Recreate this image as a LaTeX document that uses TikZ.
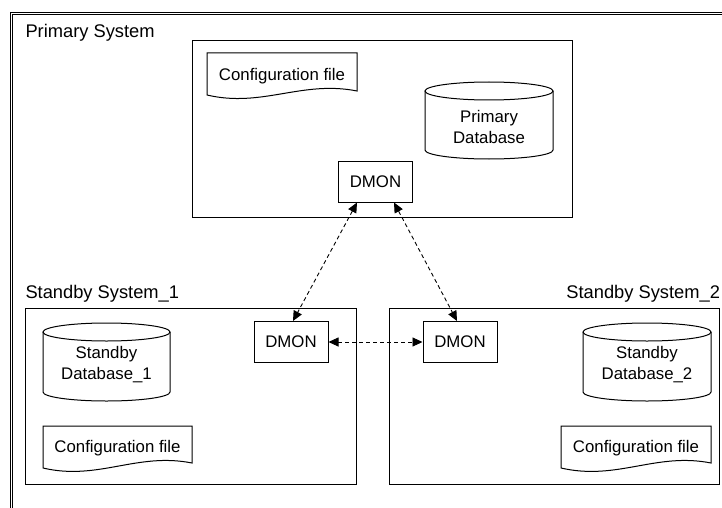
\documentclass[tikz,border=0pt]{standalone}
\usepackage{fontspec}
\setmainfont{Liberation Sans}
\usetikzlibrary{arrows.meta,calc}
\begin{document}
\begin{tikzpicture}[x=1pt,y=-1pt,line width=1pt,
  every node/.style={font=\fontsize{16.8}{21}\selectfont,inner sep=0pt,text=black},
  titletext/.style={font=\fontsize{18.3}{21}\selectfont},
  container/.style={draw,rectangle,minimum height=176pt},
  dmonbox/.style={draw,rectangle,minimum width=74pt,minimum height=41pt},
  link/.style={dash pattern=on 4pt off 3pt,line width=0.9pt,{Triangle[length=10pt,width=9pt]}-{Triangle[length=10pt,width=9pt]}},
  shapeline/.style={line width=1pt}
]
\useasboundingbox (0,0) rectangle (722,508);
\fill[white] (0,0) rectangle (722,508);
% outer double frame
\draw[line width=0.9pt] (10,508) -- (10,12) -- (722,12);
\draw[line width=0.9pt] (12.6,508) -- (12.6,14.6) -- (722,14.6);

% titles
\node[titletext,anchor=base west] (tprim) at (25,37.5) {Primary System};
\node[titletext,anchor=base west] (tsb1) at (25,298.5) {Standby System\_1};
\node[titletext,anchor=base east] (tsb2) at (720.5,298.5) {Standby System\_2};

% containers
\node[container,minimum width=380pt] (prim) at (382,129) {};
\node[container,minimum width=331pt] (sb1) at (190.5,396) {};
\node[container,minimum width=330pt] (sb2) at (554,396) {};

% DMON boxes
\node[dmonbox] (pdmon) at (375.5,181.5) {DMON};
\node[dmonbox] (s1dmon) at (291,342) {DMON};
\node[dmonbox] (s2dmon) at (460,342) {DMON};

% configuration files
\draw[shapeline] (207,53) -- (357,53) -- (357,91) .. controls (302,80) and (262,108) .. (207,95) -- cycle;
\node (pcfg) at (282,76) {Configuration file};
\draw[shapeline] (43,426) -- (192,426) -- (192,463) .. controls (137,452) and (98,481) .. (43,468) -- cycle;
\node (s1cfg) at (117.5,448) {Configuration file};
\draw[shapeline] (561,426) -- (711,426) -- (711,463) .. controls (656,452) and (617,481) .. (561,468) -- cycle;
\node (s2cfg) at (636,448) {Configuration file};

% databases
\draw[shapeline] (489,91) ellipse [x radius=64pt,y radius=9pt];
\draw[shapeline] (425,91) -- (425,150) .. controls (425,155) and (453.65,159) .. (489,159) .. controls (524.35,159) and (553,155) .. (553,150) -- (553,91);
\node[align=center] (pdb) at (489,126.5) {Primary\\Database};

\draw[shapeline] (106.5,332) ellipse [x radius=63.5pt,y radius=9pt];
\draw[shapeline] (43,332) -- (43,392) .. controls (43,397) and (71.4,401) .. (106.5,401) .. controls (141.6,401) and (170,397) .. (170,392) -- (170,332);
\node[align=center] (s1db) at (106.5,365) {Standby\\Database\_1};

\draw[shapeline] (647,332) ellipse [x radius=64pt,y radius=9pt];
\draw[shapeline] (583,332) -- (583,392) .. controls (583,397) and (611.65,401) .. (647,401) .. controls (682.35,401) and (711,397) .. (711,392) -- (711,332);
\node[align=center] (s2db) at (647,365) {Standby\\Database\_2};

% links
\draw[link] ($(pdmon.south)+(-18.5,0)$) -- ($(s1dmon.north)+(2,0)$);
\draw[link] ($(pdmon.south)+(18.5,0)$) -- ($(s2dmon.north)+(-3,0)$);
\draw[link] (s1dmon.east) -- (s2dmon.west);
\end{tikzpicture}
\end{document}
